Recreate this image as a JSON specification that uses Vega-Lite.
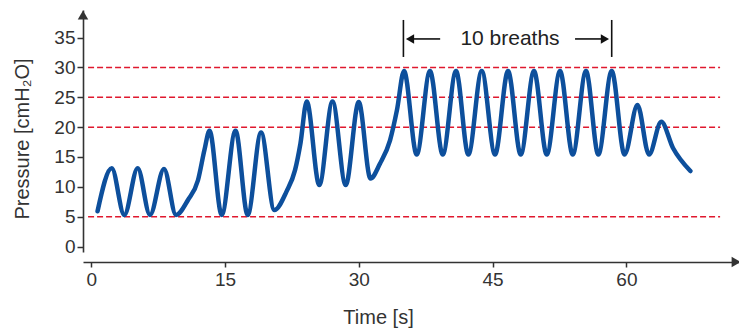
{
  "$schema": "https://vega.github.io/schema/vega-lite/v6.json",
  "width": 656,
  "height": 242,
  "autosize": {"type": "none"},
  "padding": {"left": 83, "top": 10, "right": 0, "bottom": 80},
  "background": "white",
  "config": {"view": {"stroke": null}, "font": "Liberation Sans"},
  "datasets": {
    "pressure": [
      {"time": 0.71, "pressure": 5.9},
      {"time": 2.30, "pressure": 13.1},
      {"time": 3.71, "pressure": 5.3},
      {"time": 5.21, "pressure": 13.1},
      {"time": 6.59, "pressure": 5.3},
      {"time": 8.16, "pressure": 13.0},
      {"time": 9.51, "pressure": 5.3},
      {"time": 10.85, "pressure": 7.8},
      {"time": 11.97, "pressure": 11.1},
      {"time": 12.70, "pressure": 16.2},
      {"time": 13.26, "pressure": 19.4},
      {"time": 14.63, "pressure": 5.3},
      {"time": 16.18, "pressure": 19.4},
      {"time": 17.54, "pressure": 5.3},
      {"time": 19.04, "pressure": 19.1},
      {"time": 20.53, "pressure": 6.1},
      {"time": 21.89, "pressure": 9.2},
      {"time": 22.85, "pressure": 12.8},
      {"time": 23.46, "pressure": 17.3},
      {"time": 24.16, "pressure": 24.3},
      {"time": 25.57, "pressure": 10.3},
      {"time": 27.05, "pressure": 24.3},
      {"time": 28.53, "pressure": 10.3},
      {"time": 29.99, "pressure": 24.2},
      {"time": 31.31, "pressure": 11.4},
      {"time": 32.38, "pressure": 13.9},
      {"time": 33.50, "pressure": 17.8},
      {"time": 34.28, "pressure": 22.9},
      {"time": 35.07, "pressure": 29.4},
      {"time": 36.49, "pressure": 15.4},
      {"time": 37.98, "pressure": 29.4},
      {"time": 39.41, "pressure": 15.4},
      {"time": 40.90, "pressure": 29.4},
      {"time": 42.28, "pressure": 15.4},
      {"time": 43.78, "pressure": 29.4},
      {"time": 45.27, "pressure": 15.4},
      {"time": 46.73, "pressure": 29.4},
      {"time": 48.15, "pressure": 15.4},
      {"time": 49.64, "pressure": 29.4},
      {"time": 51.07, "pressure": 15.4},
      {"time": 52.56, "pressure": 29.4},
      {"time": 53.98, "pressure": 15.4},
      {"time": 55.47, "pressure": 29.4},
      {"time": 56.85, "pressure": 15.4},
      {"time": 58.35, "pressure": 29.4},
      {"time": 59.79, "pressure": 15.4},
      {"time": 61.24, "pressure": 23.7},
      {"time": 62.53, "pressure": 15.4},
      {"time": 63.90, "pressure": 20.9},
      {"time": 65.22, "pressure": 16.5},
      {"time": 67.17, "pressure": 12.65}
    ],
    "levels": [
      {"pressure": 5},
      {"pressure": 20},
      {"pressure": 25},
      {"pressure": 30}
    ],
    "bars": [
      {"time": 35.0},
      {"time": 58.35}
    ],
    "shafts": [
      {"time": 35.74, "time2": 39.12},
      {"time": 54.24, "time2": 57.59}
    ],
    "heads": [
      {"time": 35.74, "dir": "triangle-left"},
      {"time": 57.59, "dir": "triangle-right"}
    ],
    "note": [
      {"time": 46.95, "label": "10 breaths"}
    ]
  },
  "layer": [
    {
      "data": {"name": "levels"},
      "mark": {"type": "rule", "color": "#e0182e", "strokeWidth": 1.5, "strokeDash": [6, 3]},
      "encoding": {
        "y": {
          "field": "pressure", "type": "quantitative",
          "scale": {"domain": [-0.92, 39.63], "nice": false, "zero": false},
          "axis": {
            "title": "Pressure [cmH₂O]", "values": [0, 5, 10, 15, 20, 25, 30, 35], "tickCount": 20, "grid": false, "labelOverlap": false,
            "domainColor": "#333333", "domainWidth": 1.6, "tickColor": "#333333", "tickWidth": 1.5, "tickSize": 6,
            "labelFont": "Liberation Sans", "labelFontSize": 19, "labelColor": "#333333", "labelPadding": 2, "labelFlush": false,
            "titleFont": "Liberation Sans", "titleFontSize": 20, "titleFontWeight": "normal", "titleColor": "#333333",
            "titleAngle": -90, "titleX": -55, "titleY": 128.5, "titleAlign": "center", "titleBaseline": "alphabetic"
          }
        },
        "x": {
          "datum": -0.35, "type": "quantitative",
          "scale": {"domain": [-0.919, 72.62], "nice": false, "zero": false},
          "axis": {
            "title": "Time [s]", "values": [0, 15, 30, 45, 60], "tickCount": 20, "offset": 10, "grid": false, "labelOverlap": false,
            "domainColor": "#333333", "domainWidth": 1.6, "tickColor": "#333333", "tickWidth": 1.5, "tickSize": 5,
            "labelFont": "Liberation Sans", "labelFontSize": 19, "labelColor": "#333333", "labelPadding": 3, "labelFlush": false,
            "titleFont": "Liberation Sans", "titleFontSize": 20, "titleFontWeight": "normal", "titleColor": "#333333",
            "titleX": 295, "titleY": 61, "titleAlign": "center", "titleBaseline": "alphabetic"
          }
        },
        "x2": {"datum": 70.5}
      }
    },
    {
      "data": {"name": "pressure"},
      "mark": {"type": "line", "interpolate": "monotone", "color": "#0d4f9c", "strokeWidth": 4.5, "strokeCap": "round", "strokeJoin": "round"},
      "encoding": {
        "x": {"field": "time", "type": "quantitative"},
        "y": {"field": "pressure", "type": "quantitative"}
      }
    },
    {
      "data": {"name": "bars"},
      "mark": {"type": "rule", "color": "#111111", "strokeWidth": 1.6},
      "encoding": {
        "x": {"field": "time", "type": "quantitative"},
        "y": {"datum": 31.76},
        "y2": {"datum": 37.96}
      }
    },
    {
      "data": {"name": "shafts"},
      "mark": {"type": "rule", "color": "#111111", "strokeWidth": 1.6},
      "encoding": {
        "x": {"field": "time", "type": "quantitative"},
        "x2": {"field": "time2"},
        "y": {"datum": 34.78}
      }
    },
    {
      "data": {"name": "heads"},
      "mark": {"type": "point", "filled": true, "color": "#111111", "size": 90, "opacity": 1},
      "encoding": {
        "x": {"field": "time", "type": "quantitative"},
        "y": {"datum": 34.78},
        "shape": {"field": "dir", "type": "nominal", "scale": null}
      }
    },
    {
      "data": {"name": "note"},
      "mark": {"type": "text", "font": "Liberation Sans", "fontSize": 21, "color": "#222222", "align": "center", "baseline": "alphabetic"},
      "encoding": {
        "x": {"field": "time", "type": "quantitative"},
        "y": {"datum": 33.77},
        "text": {"field": "label"}
      }
    },
    {
      "data": {"values": [{}]},
      "mark": {"type": "point", "shape": "triangle-up", "filled": true, "color": "#333333", "size": 110, "opacity": 1},
      "encoding": {
        "x": {"datum": -0.919},
        "y": {"datum": 38.8}
      }
    },
    {
      "data": {"values": [{}]},
      "mark": {"type": "point", "shape": "triangle-right", "filled": true, "color": "#333333", "size": 110, "opacity": 1},
      "encoding": {
        "x": {"datum": 72.3},
        "y": {"datum": -2.6}
      }
    }
  ]
}
